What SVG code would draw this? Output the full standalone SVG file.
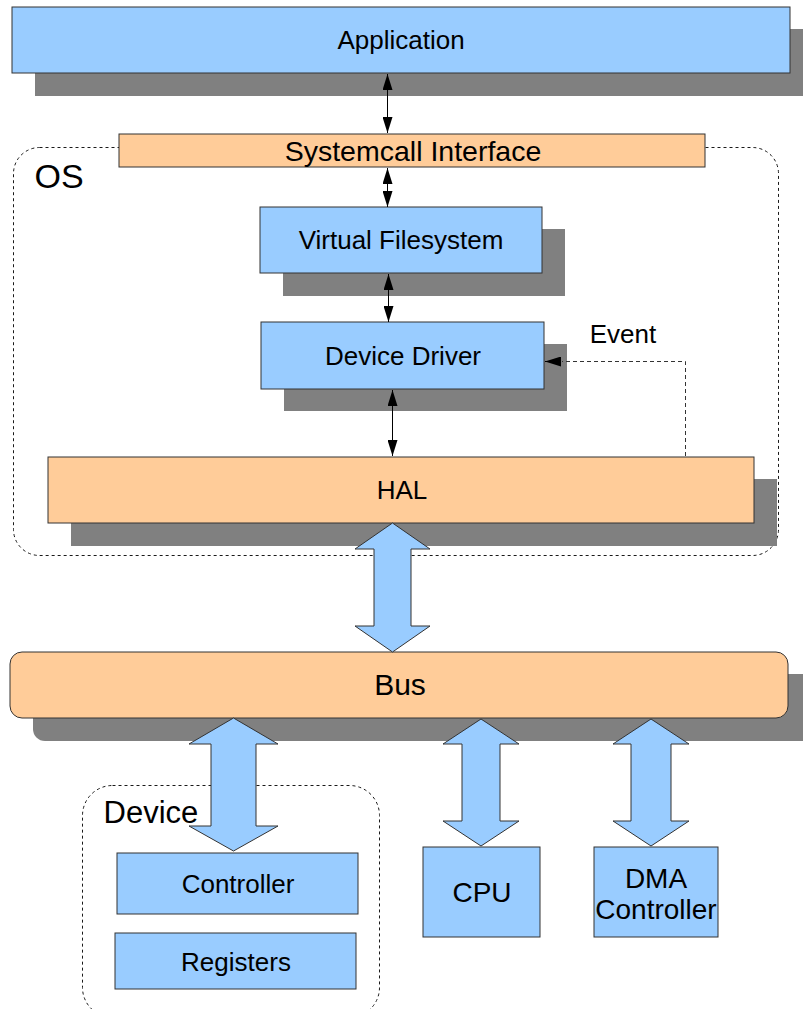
<svg xmlns="http://www.w3.org/2000/svg" width="803" height="1009" viewBox="0 0 803 1009">
  <defs>
    <style>
      .blue { fill: #99ccff; stroke: #333333; stroke-width: 1; }
      .orange { fill: #ffcc99; stroke: #333333; stroke-width: 1; }
      .shadow { fill: #808080; stroke: none; }
      .group { fill: none; stroke: #1a1a1a; stroke-width: 1; stroke-dasharray: 3 3; }
      .line { fill: none; stroke: #000000; stroke-width: 1; }
      .dash { fill: none; stroke: #333333; stroke-width: 1; stroke-dasharray: 4 3; }
      .fat { fill: #99ccff; stroke: #333333; stroke-width: 1; stroke-linejoin: miter; }
      text { font-family: "Liberation Sans", Arial, sans-serif; fill: #000000; text-anchor: middle; }
    </style>
    <marker id="head" viewBox="0 0 16 10" refX="16" refY="5" markerWidth="16" markerHeight="10" markerUnits="userSpaceOnUse" orient="auto-start-reverse">
      <path d="M0,0 L16,5 L0,10 Z" fill="#000000"/>
    </marker>
  </defs>

  <!-- group outlines -->
  <rect id="os-group" class="group" x="13.5" y="147.5" width="765" height="408" rx="26" ry="26"/>
  <text x="59" y="188" style="font-size:34px">OS</text>
  <rect id="device-group" class="group" x="82.5" y="785.5" width="297" height="232" rx="30" ry="30"/>
  <text x="151" y="823" style="font-size:31px">Device</text>

  <g id="application">
    <rect class="shadow" x="35" y="29" width="780" height="67"/>
    <rect class="blue" x="12" y="7" width="778" height="66"/>
    <text x="401" y="49" style="font-size:26px">Application</text>
  </g>

  <g id="systemcall-interface">
    <rect class="orange" x="119" y="134" width="586" height="33"/>
    <text x="413" y="161" style="font-size:28.5px">Systemcall Interface</text>
  </g>

  <g id="virtual-filesystem">
    <rect class="shadow" x="283" y="229" width="282" height="67"/>
    <rect class="blue" x="260" y="207" width="282" height="66"/>
    <text x="401" y="249" style="font-size:26px">Virtual Filesystem</text>
  </g>

  <g id="device-driver">
    <rect class="shadow" x="284" y="344" width="283" height="67"/>
    <rect class="blue" x="261" y="322" width="283" height="67"/>
    <text x="403" y="365" style="font-size:26px">Device Driver</text>
  </g>

  <g id="hal">
    <rect class="shadow" x="71" y="479" width="706" height="67"/>
    <rect class="orange" x="48" y="457" width="706" height="66"/>
    <text x="402" y="499" style="font-size:26px">HAL</text>
  </g>

  <g id="bus">
    <rect class="shadow" x="33" y="674" width="790" height="67" rx="12" ry="12"/>
    <rect class="orange" x="10" y="652" width="778" height="66" rx="12" ry="12"/>
    <text x="400" y="695" style="font-size:30px">Bus</text>
  </g>

  <g id="controller">
    <rect class="blue" x="117" y="853" width="241" height="61"/>
    <text x="238" y="893" style="font-size:26px">Controller</text>
  </g>

  <g id="registers">
    <rect class="blue" x="115" y="933" width="241" height="56"/>
    <text x="236" y="971" style="font-size:26px">Registers</text>
  </g>

  <g id="cpu">
    <rect class="blue" x="423" y="847" width="117" height="90"/>
    <text x="482" y="902" style="font-size:28px">CPU</text>
  </g>

  <g id="dma-controller">
    <rect class="blue" x="594" y="847" width="124" height="90"/>
    <text x="656" y="888" style="font-size:28px">DMA</text>
    <text x="656" y="919" style="font-size:28px">Controller</text>
  </g>

  <g id="connectors">
    <line class="line" x1="387.5" y1="74" x2="387.5" y2="133" marker-start="url(#head)" marker-end="url(#head)"/>
    <line class="line" x1="387.5" y1="168" x2="387.5" y2="207" marker-start="url(#head)" marker-end="url(#head)"/>
    <line class="line" x1="388.5" y1="274" x2="388.5" y2="322" marker-start="url(#head)" marker-end="url(#head)"/>
    <line class="line" x1="392.5" y1="390" x2="392.5" y2="456" marker-start="url(#head)" marker-end="url(#head)"/>
    <polyline class="dash" points="685.5,456 685.5,361.5 562,361.5"/>
    <line class="line" x1="560" y1="361.5" x2="545" y2="361.5" marker-end="url(#head)"/>
    <text x="623" y="343" style="font-size:26px">Event</text>

    <!-- wide bus links -->
    <polygon class="fat" points="392.5,523 430,549 411,549 411,626 430,626 392.5,652 355,626 374,626 374,549 355,549"/>
    <polygon class="fat" points="233.5,718 278,744 256,744 256,826 278,826 233.5,851 189,826 211,826 211,744 189,744"/>
    <polygon class="fat" points="481,719 519,744 500,744 500,821 519,821 481,846 443,821 462,821 462,744 443,744"/>
    <polygon class="fat" points="651,719 689,744 671,744 671,821 689,821 651,846 613,821 631,821 631,744 613,744"/>
  </g>
</svg>
